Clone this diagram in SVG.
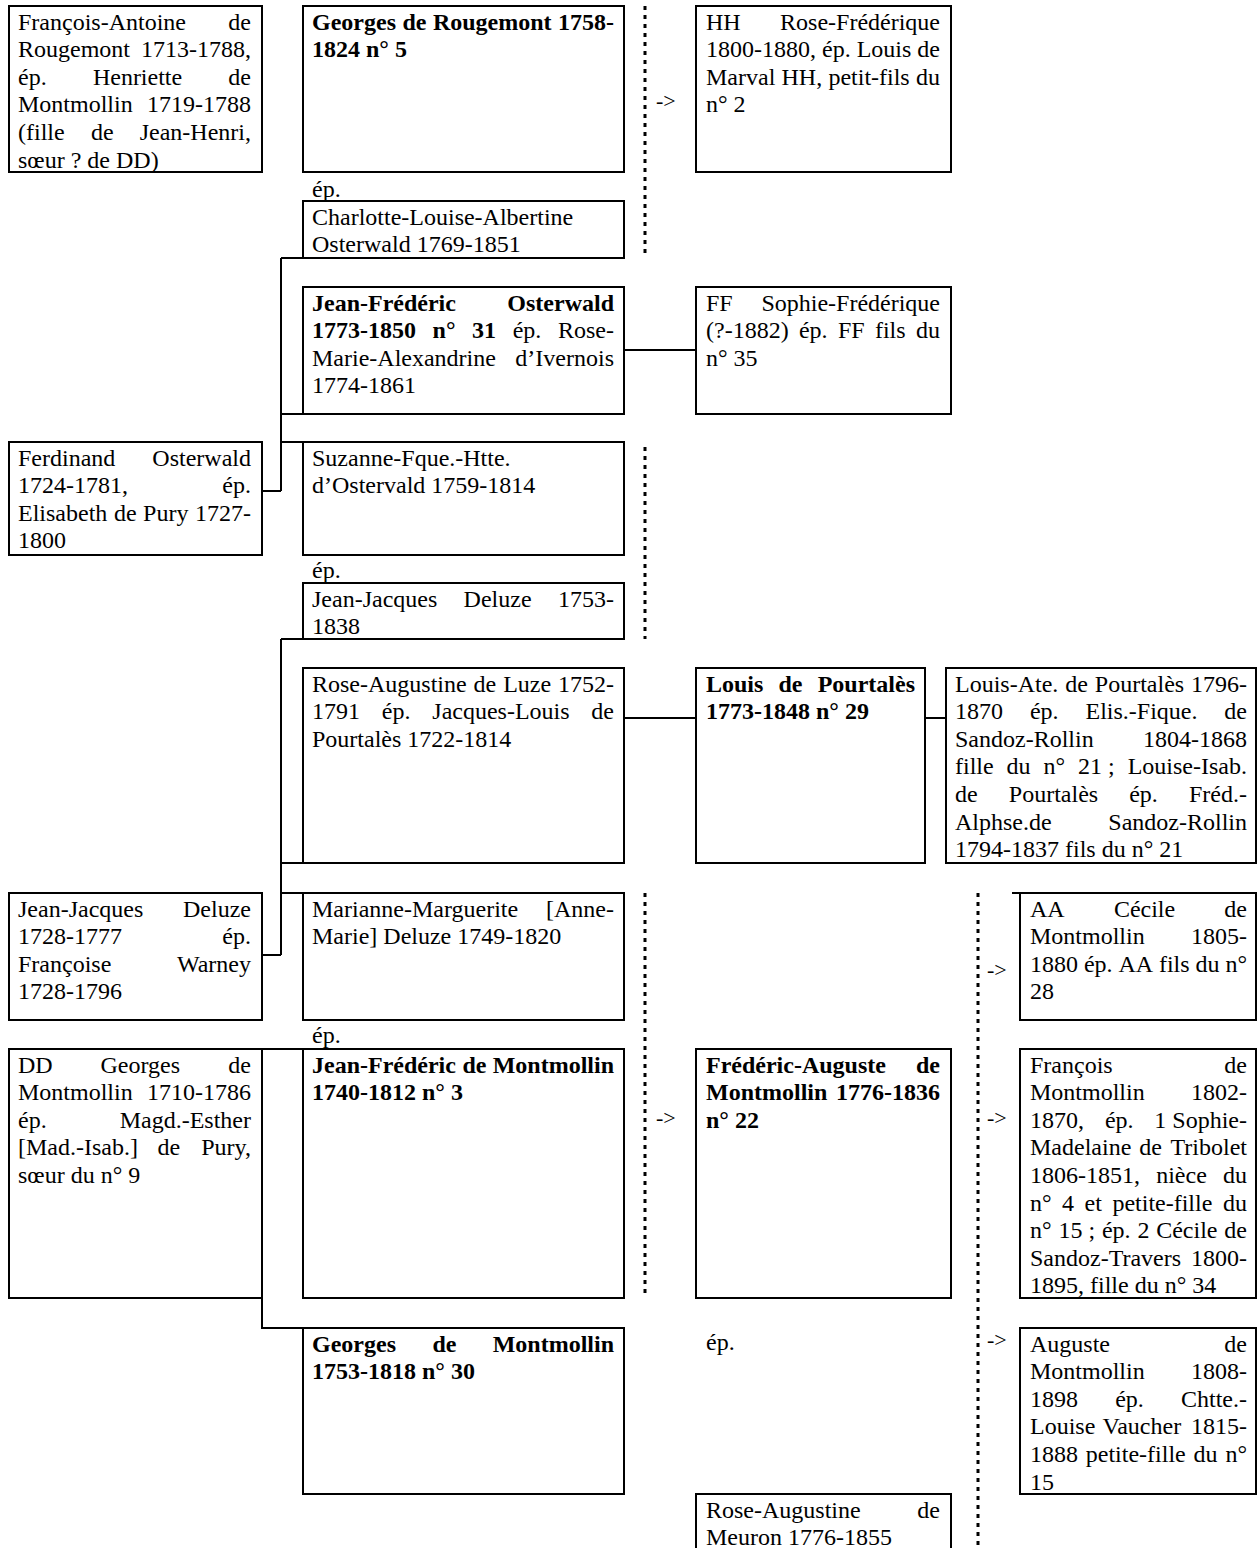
<svg xmlns="http://www.w3.org/2000/svg" width="1258" height="1548" viewBox="0 0 1258 1548">
<style>
text{font-family:'Liberation Serif','Times New Roman',serif;font-size:24px;fill:#000}
.b{font-weight:bold}
.e{text-anchor:end}
.ar{font-size:22px}
rect{fill:#fff;stroke:#000;stroke-width:2}
#connectors path{fill:none;stroke:#000;stroke-width:2}
#connectors .dot{stroke-width:3;stroke-dasharray:4 5}
</style>
<rect x="0" y="0" width="1258" height="1548" style="fill:#fff;stroke:none"/>
<g id="connectors">
<path d="M281 258V491M262 491H281M281 258H303M281 414H303M281 442H303"/>
<path d="M624 350H696"/>
<path d="M281 639V955M262 955H281M281 639H303M281 863H303M281 893H303"/>
<path d="M624 718H696M925 718H946"/>
<path d="M262 1049H303M262 1298V1328H303"/>
<path d="M1012 893H1020"/>
<path class="dot" d="M645 6V257"/>
<path class="dot" d="M645 447V639"/>
<path class="dot" d="M645 893V1298"/>
<path class="dot" d="M978 893V1548"/>
<text class="ar" x="656" y="108">-&gt;</text>
<text class="ar" x="656" y="1125">-&gt;</text>
<text class="ar" x="987" y="977">-&gt;</text>
<text class="ar" x="987" y="1125">-&gt;</text>
<text class="ar" x="987" y="1347">-&gt;</text>
<text x="312" y="197">ép.</text>
<text x="312" y="578">ép.</text>
<text x="312" y="1043">ép.</text>
<text x="706" y="1350">ép.</text>
</g>

<g id="francois-antoine">
<rect x="9" y="6" width="253" height="166"/>
<text x="18" y="29.5">François-Antoine</text><text class="e" x="251" y="29.5">de</text>
<text x="18" y="57.1">Rougemont</text><text class="e" x="251" y="57.1">1713-1788,</text>
<text x="18" y="84.7">ép.</text><text x="92.9" y="84.7">Henriette</text><text class="e" x="251" y="84.7">de</text>
<text x="18" y="112.3">Montmollin</text><text class="e" x="251" y="112.3">1719-1788</text>
<text x="18" y="139.9">(fille</text><text x="90.9" y="139.9">de</text><text class="e" x="251" y="139.9">Jean-Henri,</text>
<text x="18" y="167.5">sœur ? de DD)</text>
</g>

<g id="georges-rougemont">
<rect x="303" y="6" width="321" height="166"/>
<text class="b" x="312" y="29.5">Georges</text><text class="b" x="402.4" y="29.5">de</text><text class="b" x="432.9" y="29.5">Rougemont</text><text class="b e" x="614" y="29.5">1758-</text>
<text class="b" x="312" y="57.1">1824 n° 5</text>
</g>

<g id="charlotte">
<rect x="303" y="201" width="321" height="57"/>
<text x="312" y="224.5">Charlotte-Louise-Albertine</text>
<text x="312" y="252.1">Osterwald 1769-1851</text>
</g>

<g id="jf-osterwald">
<rect x="303" y="287" width="321" height="127"/>
<text class="b" x="312" y="310.5">Jean-Frédéric</text><text class="b e" x="614" y="310.5">Osterwald</text>
<text class="b" x="312" y="338.1">1773-1850</text><text class="b" x="432.6" y="338.1">n°</text><text class="b" x="472.1" y="338.1">31</text><text x="512.7" y="338.1">ép.</text><text class="e" x="614" y="338.1">Rose-</text>
<text x="312" y="365.7">Marie-Alexandrine</text><text class="e" x="614" y="365.7">d’Ivernois</text>
<text x="312" y="393.3">1774-1861</text>
</g>

<g id="suzanne">
<rect x="303" y="442" width="321" height="113"/>
<text x="312" y="465.5">Suzanne-Fque.-Htte.</text>
<text x="312" y="493.1">d’Ostervald 1759-1814</text>
</g>

<g id="jj-deluze-1753">
<rect x="303" y="583" width="321" height="56"/>
<text x="312" y="606.5">Jean-Jacques</text><text x="463.6" y="606.5">Deluze</text><text class="e" x="614" y="606.5">1753-</text>
<text x="312" y="634.1">1838</text>
</g>

<g id="rose-augustine-luze">
<rect x="303" y="668" width="321" height="195"/>
<text x="312" y="691.5">Rose-Augustine</text><text x="473.6" y="691.5">de</text><text x="503.2" y="691.5">Luze</text><text class="e" x="614" y="691.5">1752-</text>
<text x="312" y="719.1">1791</text><text x="381.8" y="719.1">ép.</text><text x="432.3" y="719.1">Jacques-Louis</text><text class="e" x="614" y="719.1">de</text>
<text x="312" y="746.7">Pourtalès 1722-1814</text>
</g>

<g id="marianne">
<rect x="303" y="893" width="321" height="127"/>
<text x="312" y="916.5">Marianne-Marguerite</text><text class="e" x="614" y="916.5">[Anne-</text>
<text x="312" y="944.1">Marie] Deluze 1749-1820</text>
</g>

<g id="jf-montmollin">
<rect x="303" y="1049" width="321" height="249"/>
<text class="b" x="312" y="1072.5">Jean-Frédéric</text><text class="b" x="462.4" y="1072.5">de</text><text class="b e" x="614" y="1072.5">Montmollin</text>
<text class="b" x="312" y="1100.1">1740-1812 n° 3</text>
</g>

<g id="georges-montmollin">
<rect x="303" y="1328" width="321" height="166"/>
<text class="b" x="312" y="1351.5">Georges</text><text class="b" x="432.4" y="1351.5">de</text><text class="b e" x="614" y="1351.5">Montmollin</text>
<text class="b" x="312" y="1379.1">1753-1818 n° 30</text>
</g>

<g id="ferdinand">
<rect x="9" y="442" width="253" height="113"/>
<text x="18" y="465.5">Ferdinand</text><text class="e" x="251" y="465.5">Osterwald</text>
<text x="18" y="493.1">1724-1781,</text><text class="e" x="251" y="493.1">ép.</text>
<text x="18" y="520.7">Elisabeth</text><text x="113.9" y="520.7">de</text><text x="143.1" y="520.7">Pury</text><text class="e" x="251" y="520.7">1727-</text>
<text x="18" y="548.3">1800</text>
</g>

<g id="jj-deluze-1728">
<rect x="9" y="893" width="253" height="127"/>
<text x="18" y="916.5">Jean-Jacques</text><text class="e" x="251" y="916.5">Deluze</text>
<text x="18" y="944.1">1728-1777</text><text class="e" x="251" y="944.1">ép.</text>
<text x="18" y="971.7">Françoise</text><text class="e" x="251" y="971.7">Warney</text>
<text x="18" y="999.3">1728-1796</text>
</g>

<g id="dd-georges">
<rect x="9" y="1049" width="253" height="249"/>
<text x="18" y="1072.5">DD</text><text x="100.5" y="1072.5">Georges</text><text class="e" x="251" y="1072.5">de</text>
<text x="18" y="1100.1">Montmollin</text><text class="e" x="251" y="1100.1">1710-1786</text>
<text x="18" y="1127.7">ép.</text><text class="e" x="251" y="1127.7">Magd.-Esther</text>
<text x="18" y="1155.3">[Mad.-Isab.]</text><text x="157.5" y="1155.3">de</text><text class="e" x="251" y="1155.3">Pury,</text>
<text x="18" y="1182.9">sœur du n° 9</text>
</g>

<g id="hh-rose-frederique">
<rect x="696" y="6" width="255" height="166"/>
<text x="706" y="29.5">HH</text><text class="e" x="940" y="29.5">Rose-Frédérique</text>
<text x="706" y="57.1">1800-1880,</text><text x="822" y="57.1">ép.</text><text x="856.7" y="57.1">Louis</text><text class="e" x="940" y="57.1">de</text>
<text x="706" y="84.7">Marval</text><text x="781.5" y="84.7">HH,</text><text x="828.4" y="84.7">petit-fils</text><text class="e" x="940" y="84.7">du</text>
<text x="706" y="112.3">n° 2</text>
</g>

<g id="ff-sophie">
<rect x="696" y="287" width="255" height="127"/>
<text x="706" y="310.5">FF</text><text class="e" x="940" y="310.5">Sophie-Frédérique</text>
<text x="706" y="338.1">(?-1882)</text><text x="798.9" y="338.1">ép.</text><text x="837.9" y="338.1">FF</text><text x="874.9" y="338.1">fils</text><text class="e" x="940" y="338.1">du</text>
<text x="706" y="365.7">n° 35</text>
</g>

<g id="louis-pourtales">
<rect x="696" y="668" width="229" height="195"/>
<text class="b" x="706" y="691.5">Louis</text><text class="b" x="778.5" y="691.5">de</text><text class="b e" x="915" y="691.5">Pourtalès</text>
<text class="b" x="706" y="719.1">1773-1848 n° 29</text>
</g>

<g id="louis-ate">
<rect x="946" y="668" width="310" height="195"/>
<text x="955" y="691.5">Louis-Ate.</text><text x="1065.2" y="691.5">de</text><text x="1094.8" y="691.5">Pourtalès</text><text class="e" x="1247" y="691.5">1796-</text>
<text x="955" y="719.1">1870</text><text x="1029.9" y="719.1">ép.</text><text x="1085.5" y="719.1">Elis.-Fique.</text><text class="e" x="1247" y="719.1">de</text>
<text x="955" y="746.7">Sandoz-Rollin</text><text class="e" x="1247" y="746.7">1804-1868</text>
<text x="955" y="774.3">fille</text><text x="1006.6" y="774.3">du</text><text x="1043.6" y="774.3">n°</text><text x="1078.1" y="774.3">21 ;</text><text class="e" x="1247" y="774.3">Louise-Isab.</text>
<text x="955" y="801.9">de</text><text x="1008.8" y="801.9">Pourtalès</text><text x="1129.2" y="801.9">ép.</text><text class="e" x="1247" y="801.9">Fréd.-</text>
<text x="955" y="829.5">Alphse.de</text><text class="e" x="1247" y="829.5">Sandoz-Rollin</text>
<text x="955" y="857.1">1794-1837 fils du n° 21</text>
</g>

<g id="aa-cecile">
<rect x="1020" y="893" width="236" height="127"/>
<text x="1030" y="916.5">AA</text><text x="1113.9" y="916.5">Cécile</text><text class="e" x="1247" y="916.5">de</text>
<text x="1030" y="944.1">Montmollin</text><text class="e" x="1247" y="944.1">1805-</text>
<text x="1030" y="971.7">1880</text><text x="1083.9" y="971.7">ép.</text><text x="1118.4" y="971.7">AA</text><text x="1158.9" y="971.7">fils</text><text x="1195.5" y="971.7">du</text><text class="e" x="1247" y="971.7">n°</text>
<text x="1030" y="999.3">28</text>
</g>

<g id="frederic-auguste">
<rect x="696" y="1049" width="255" height="249"/>
<text class="b" x="706" y="1072.5">Frédéric-Auguste</text><text class="b e" x="940" y="1072.5">de</text>
<text class="b" x="706" y="1100.1">Montmollin</text><text class="b e" x="940" y="1100.1">1776-1836</text>
<text class="b" x="706" y="1127.7">n° 22</text>
</g>

<g id="francois-montmollin">
<rect x="1020" y="1049" width="236" height="249"/>
<text x="1030" y="1072.5">François</text><text class="e" x="1247" y="1072.5">de</text>
<text x="1030" y="1100.1">Montmollin</text><text class="e" x="1247" y="1100.1">1802-</text>
<text x="1030" y="1127.7">1870,</text><text x="1104.9" y="1127.7">ép.</text><text class="e" x="1247" y="1127.7">1 Sophie-</text>
<text x="1030" y="1155.3">Madelaine</text><text x="1139.2" y="1155.3">de</text><text class="e" x="1247" y="1155.3">Tribolet</text>
<text x="1030" y="1182.9">1806-1851,</text><text x="1156.2" y="1182.9">nièce</text><text class="e" x="1247" y="1182.9">du</text>
<text x="1030" y="1210.5">n°</text><text x="1062.1" y="1210.5">4</text><text x="1084.6" y="1210.5">et</text><text x="1112.4" y="1210.5">petite-fille</text><text class="e" x="1247" y="1210.5">du</text>
<text x="1030" y="1238.1">n°</text><text x="1058.4" y="1238.1">15 ;</text><text x="1101.9" y="1238.1">ép.</text><text x="1137.4" y="1238.1">2</text><text x="1156.2" y="1238.1">Cécile</text><text class="e" x="1247" y="1238.1">de</text>
<text x="1030" y="1265.7">Sandoz-Travers</text><text class="e" x="1247" y="1265.7">1800-</text>
<text x="1030" y="1293.3">1895, fille du n° 34</text>
</g>

<g id="auguste-montmollin">
<rect x="1020" y="1328" width="236" height="166"/>
<text x="1030" y="1351.5">Auguste</text><text class="e" x="1247" y="1351.5">de</text>
<text x="1030" y="1379.1">Montmollin</text><text class="e" x="1247" y="1379.1">1808-</text>
<text x="1030" y="1406.7">1898</text><text x="1115.2" y="1406.7">ép.</text><text class="e" x="1247" y="1406.7">Chtte.-</text>
<text x="1030" y="1434.3">Louise</text><text x="1102.5" y="1434.3">Vaucher</text><text class="e" x="1247" y="1434.3">1815-</text>
<text x="1030" y="1461.9">1888</text><text x="1085.8" y="1461.9">petite-fille</text><text x="1193.6" y="1461.9">du</text><text class="e" x="1247" y="1461.9">n°</text>
<text x="1030" y="1489.5">15</text>
</g>

<g id="rose-augustine-meuron">
<rect x="696" y="1494" width="255" height="70"/>
<text x="706" y="1517.5">Rose-Augustine</text><text class="e" x="940" y="1517.5">de</text>
<text x="706" y="1545.1">Meuron 1776-1855</text>
</g>
</svg>
